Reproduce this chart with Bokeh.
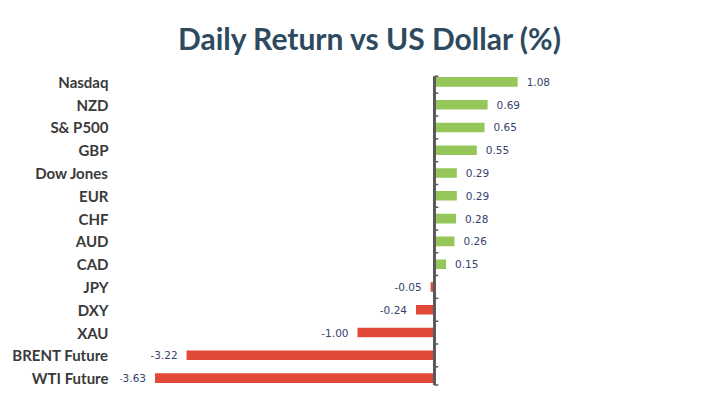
from bokeh.plotting import figure
from bokeh.models import Range1d, FixedTicker, ColumnDataSource
from bokeh.core.properties import value
from bokeh.embed import file_html
from bokeh.resources import INLINE

# ---- data (top to bottom) ----
categories = ["Nasdaq", "NZD", "S& P500", "GBP", "Dow Jones", "EUR", "CHF",
              "AUD", "CAD", "JPY", "DXY", "XAU", "BRENT Future", "WTI Future"]
returns = [1.08, 0.69, 0.65, 0.55, 0.29, 0.29, 0.28, 0.26, 0.15,
           -0.05, -0.24, -1.00, -3.22, -3.63]
value_labels = ["1.08", "0.69", "0.65", "0.55", "0.29", "0.29", "0.28", "0.26", "0.15",
                "-0.05", "-0.24", "-1.00", "-3.22", "-3.63"]
title_text = "Daily Return vs US Dollar (%)"

GREEN = "#95c65a"
RED = "#e04a36"
TEXT_BLUE = "#34436e"

n = len(categories)
ypos = [n - 1 - i for i in range(n)]
colors = [GREEN if v >= 0 else RED for v in returns]
pos_idx = [i for i, v in enumerate(returns) if v >= 0]
neg_idx = [i for i, v in enumerate(returns) if v < 0]

p = figure(width=701, height=391, output_backend="svg", toolbar_location=None,
           x_range=Range1d(-4.078, 2.416), y_range=Range1d(-0.5, n - 0.5),
           min_border_left=120, min_border_right=81, min_border_top=70,
           min_border_bottom=2)
p.outline_line_color = None
p.xgrid.visible = False
p.ygrid.visible = False
p.xaxis.visible = False

p.title.text = title_text
p.title.align = "center"
p.title.vertical_align = "bottom"
p.title.standoff = 30
p.title.text_font = "Lato"
p.title.text_font_style = "bold"
p.title.text_font_size = "30px"
p.title.text_color = "#2e4a5f"

src = ColumnDataSource(dict(y=ypos, v=returns, c=colors, lab=value_labels))
p.hbar(y="y", left=0, right="v", height=0.42, fill_color="c", line_color=None, source=src)

psrc = ColumnDataSource(dict(y=[ypos[i] for i in pos_idx], v=[returns[i] for i in pos_idx],
                             lab=[value_labels[i] for i in pos_idx]))
nsrc = ColumnDataSource(dict(y=[ypos[i] for i in neg_idx], v=[returns[i] for i in neg_idx],
                             lab=[value_labels[i] for i in neg_idx]))
p.text(x="v", y="y", text="lab", source=psrc, x_offset=9, text_align="left",
       text_baseline="middle", text_font=value("DejaVu Sans"), text_font_size="10.5px",
       text_color=TEXT_BLUE)
p.text(x="v", y="y", text="lab", source=nsrc, x_offset=-9, text_align="right",
       text_baseline="middle", text_font=value("DejaVu Sans"), text_font_size="10.5px",
       text_color=TEXT_BLUE)

# value axis line at zero with small tick marks at category boundaries
axis_bottom, axis_top = -0.3, n - 0.75
p.segment(x0=[0], y0=[axis_bottom], x1=[0], y1=[axis_top], line_color="#595959", line_width=3)
bounds = [axis_bottom] + [k + 0.5 for k in range(0, n - 1)] + [axis_top]
p.segment(x0=[0] * len(bounds), y0=bounds, x1=[0.05] * len(bounds), y1=bounds,
          line_color="#595959", line_width=1.5)

yax = p.yaxis[0]
yax.ticker = FixedTicker(ticks=ypos)
yax.major_label_overrides = {y: c for y, c in zip(ypos, categories)}
yax.axis_line_color = None
yax.major_tick_line_color = None
yax.minor_tick_line_color = None
yax.major_label_standoff = 6
yax.major_label_text_font = "Lato"
yax.major_label_text_font_style = "bold"
yax.major_label_text_font_size = "15px"
yax.major_label_text_color = "#3a3a3a"

open("out.html", "w").write(file_html(p, INLINE))
